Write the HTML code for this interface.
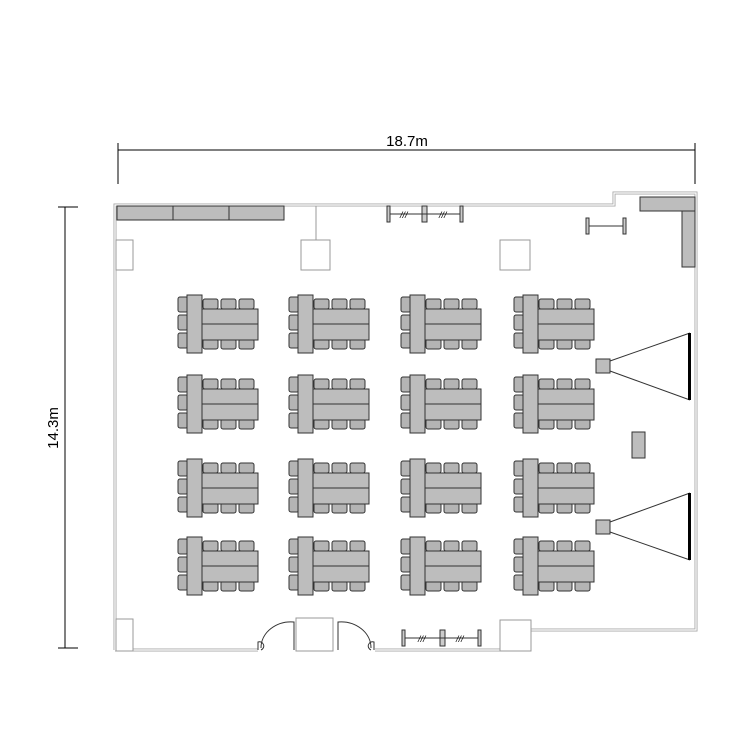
<!DOCTYPE html>
<html><head><style>body{margin:0;background:#fff}svg{display:block}</style></head><body>
<svg width="750" height="750" viewBox="0 0 750 750" xmlns="http://www.w3.org/2000/svg">
<defs>
<g id="grp">
  <g fill="#b4b4b4" stroke="#333" stroke-width="1">
    <rect x="0" y="2" width="10" height="15" rx="2"/>
    <rect x="0" y="20" width="10" height="15" rx="2"/>
    <rect x="0" y="38" width="10" height="15" rx="2"/>
    <rect x="25" y="4" width="15" height="10" rx="2"/>
    <rect x="43" y="4" width="15" height="10" rx="2"/>
    <rect x="61" y="4" width="15" height="10" rx="2"/>
    <rect x="25" y="44" width="15" height="10" rx="2"/>
    <rect x="43" y="44" width="15" height="10" rx="2"/>
    <rect x="61" y="44" width="15" height="10" rx="2"/>
  </g>
  <rect x="23" y="14" width="57" height="31" fill="#bdbdbd" stroke="#333"/>
  <line x1="23" y1="29" x2="80" y2="29" stroke="#333"/>
  <rect x="9" y="0" width="15" height="58" fill="#bdbdbd" stroke="#333"/>
</g>
</defs>
<g stroke="#000" stroke-width="1" fill="none">
  <line x1="118" y1="150" x2="695" y2="150"/>
  <line x1="118" y1="143" x2="118" y2="184"/>
  <line x1="695" y1="143" x2="695" y2="184"/>
  <line x1="65" y1="207" x2="65" y2="648"/>
  <line x1="58" y1="207" x2="78" y2="207"/>
  <line x1="58" y1="648" x2="78" y2="648"/>
</g>
<text x="407" y="146" font-family="Liberation Sans, sans-serif" font-size="15" text-anchor="middle">18.7m</text>
<text transform="translate(58,428) rotate(-90)" font-family="Liberation Sans, sans-serif" font-size="15" text-anchor="middle">14.3m</text>
<g stroke="#aaa" stroke-width="3" fill="none">
  <polyline points="115,650 115,205 614,205 614,193 696,193 696,630 531,630"/>
  <polyline points="115,650 258,650"/>
  <polyline points="375,650 500,650"/>
</g>
<g stroke="#fff" stroke-width="1.2" fill="none">
  <polyline points="115,650 115,205 614,205 614,193 696,193 696,630 531,630"/>
  <polyline points="115,650 258,650"/>
  <polyline points="375,650 500,650"/>
</g>
<g stroke="#999" stroke-width="1" fill="#fff">
  <rect x="116" y="240" width="17" height="30"/>
  <rect x="301" y="240" width="29" height="30"/>
  <rect x="500" y="240" width="30" height="30"/>
  <rect x="116" y="619" width="17" height="32"/>
  <rect x="500" y="620" width="31" height="31"/>
  <rect x="296" y="618" width="37" height="33"/>
  <line x1="316" y1="206" x2="316" y2="240"/>
</g>
<g fill="#bdbdbd" stroke="#333">
  <rect x="117" y="206" width="56" height="14"/>
  <rect x="173" y="206" width="56" height="14"/>
  <rect x="229" y="206" width="55" height="14"/>
  <polygon points="640,197 695,197 695,267 682,267 682,211 640,211"/>
  <line x1="682" y1="211" x2="695" y2="211"/>
  <rect x="596" y="359" width="14" height="14"/>
  <rect x="596" y="520" width="14" height="14"/>
  <rect x="632" y="432" width="13" height="26"/>
</g>
<g stroke="#333" fill="none">
  <line x1="610" y1="361" x2="690" y2="333"/><line x1="610" y1="371" x2="690" y2="400"/>
  <line x1="610" y1="522" x2="690" y2="493"/><line x1="610" y1="532" x2="690" y2="560"/>
</g>
<rect x="688" y="333" width="3" height="67" fill="#000"/>
<rect x="688" y="493" width="3" height="67" fill="#000"/>
<g stroke="#333" fill="#ccc">
  <rect x="586" y="218" width="3" height="16"/><rect x="623" y="218" width="3" height="16"/>
  <line x1="589" y1="226" x2="623" y2="226"/>
</g>
<g stroke="#333" fill="#ccc">
  <rect x="387" y="206" width="3" height="16"/><rect x="422" y="206" width="5" height="16"/><rect x="460" y="206" width="3" height="16"/>
  <line x1="390" y1="214" x2="460" y2="214"/>
  <rect x="402" y="630" width="3" height="16"/><rect x="440" y="630" width="5" height="16"/><rect x="478" y="630" width="3" height="16"/>
  <line x1="405" y1="638" x2="478" y2="638"/>
</g>
<g font-family="Liberation Sans, sans-serif" font-size="9" font-style="italic">
  <text x="400" y="218">///</text><text x="439" y="218">///</text>
  <text x="418" y="642">///</text><text x="456" y="642">///</text>
</g>
<g stroke="#333" fill="none">
  <path d="M258,650 v-8 a4,4 0 0 1 3,8 M261,648 a30,26 0 0 1 33,-26 v28"/>
  <path d="M374,650 v-8 a4,4 0 0 0 -3,8 M371,648 a30,26 0 0 0 -33,-26 v28"/>
</g>
<use href="#grp" x="178" y="295"/><use href="#grp" x="289" y="295"/><use href="#grp" x="401" y="295"/><use href="#grp" x="514" y="295"/>
<use href="#grp" x="178" y="375"/><use href="#grp" x="289" y="375"/><use href="#grp" x="401" y="375"/><use href="#grp" x="514" y="375"/>
<use href="#grp" x="178" y="459"/><use href="#grp" x="289" y="459"/><use href="#grp" x="401" y="459"/><use href="#grp" x="514" y="459"/>
<use href="#grp" x="178" y="537"/><use href="#grp" x="289" y="537"/><use href="#grp" x="401" y="537"/><use href="#grp" x="514" y="537"/>
</svg>
</body></html>
